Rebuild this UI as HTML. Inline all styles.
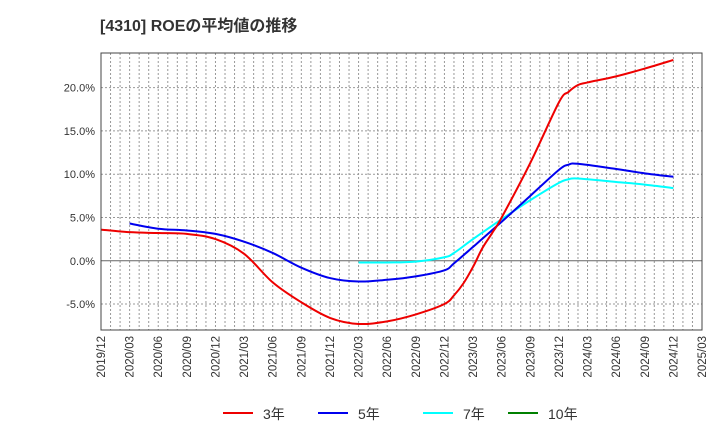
<!DOCTYPE html>
<html><head><meta charset="utf-8"><style>
body{margin:0;background:#fff;}
svg{display:block;font-family:"Liberation Sans","Noto Sans CJK JP",sans-serif;}
</style></head><body>
<svg id="chart" width="720" height="440">
<text x="100" y="31" font-size="16" font-weight="bold" fill="#333">[4310]  ROEの平均値の推移</text>
<g id="grid"></g><g id="series"></g><g id="axes"></g>
<g id="legend"></g>
</svg>
<script>
const xLabels=["2019/12","2020/03","2020/06","2020/09","2020/12","2021/03","2021/06","2021/09","2021/12","2022/03","2022/06","2022/09","2022/12","2023/03","2023/06","2023/09","2023/12","2024/03","2024/06","2024/09","2024/12","2025/03"];
const yTicks=[-5,0,5,10,15,20];
const m3=[0,3,6,9,12,15,18,21,24,27,30,33,36,37,38,39,40,41,42,45,48,49,50,51,54,57,60];
const v3=[3.6,3.3,3.2,3.1,2.5,0.8,-2.5,-4.8,-6.6,-7.3,-7.0,-6.2,-5.0,-4.0,-2.6,-0.7,1.5,3.2,5.0,11.3,18.3,19.5,20.3,20.6,21.3,22.2,23.2];
const m5=[3,6,9,12,15,18,21,24,27,30,33,36,37,39,42,45,48,49,50,54,57,60];
const v5=[4.3,3.7,3.5,3.1,2.2,0.9,-0.8,-2.0,-2.4,-2.2,-1.8,-1.1,-0.3,1.6,4.5,7.5,10.5,11.1,11.2,10.6,10.1,9.7];
const m7=[27,30,33,36,37,39,42,45,48,49,50,54,57,60];
const v7=[-0.2,-0.2,-0.1,0.4,0.9,2.5,4.8,7.0,9.0,9.4,9.5,9.1,8.8,8.4];
const L=101,R=702,T=53,B=330,yMin=-8,yMax=24,nM=63;
const X=m=>L+(R-L)*m/nM, Y=v=>B-(B-T)*(v-yMin)/(yMax-yMin);
const NS="http://www.w3.org/2000/svg";
function mk(p,t,a){const e=document.createElementNS(NS,t);for(const k in a)e.setAttribute(k,a[k]);p.appendChild(e);return e;}
const grid=document.getElementById('grid'),axes=document.getElementById('axes'),ser=document.getElementById('series'),leg=document.getElementById('legend');
for(let m=1;m<nM;m++){const l=mk(grid,'line',{x1:X(m),x2:X(m),y1:T,y2:B,stroke:'#999','stroke-dasharray':'2,2','stroke-width':1});

}
yTicks.forEach(v=>{const y=Y(v);const l=mk(grid,'line',{x1:L,x2:R,y1:y,y2:y,stroke:v===0?'#666':'#999','stroke-dasharray':v===0?'none':'2,2','stroke-width':1});


const t=mk(axes,'text',{x:L-6,y:y+4,'text-anchor':'end','font-size':11,fill:'#333'});t.textContent=v.toFixed(1)+'%';

});
xLabels.forEach((s,i)=>{const x=X(i*3);const t=mk(axes,'text',{transform:`translate(${x+4},${B+6}) rotate(-90)`,'text-anchor':'end','font-size':11.5,fill:'#333'});t.textContent=s;

});
const fr=mk(axes,'rect',{x:L,y:T,width:R-L,height:B-T,fill:'none',stroke:'#444','stroke-width':1});


function line(ms,vs,c,n){
const P=ms.map((m,i)=>[X(m),Y(vs[i])]);
let d='M'+P[0][0]+','+P[0][1];
for(let i=0;i<P.length-1;i++){const p0=P[Math.max(0,i-1)],p1=P[i],p2=P[i+1],p3=P[Math.min(P.length-1,i+2)];
const k=1/6;
d+=` C${p1[0]+(p2[0]-p0[0])*k},${p1[1]+(p2[1]-p0[1])*k} ${p2[0]-(p3[0]-p1[0])*k},${p2[1]-(p3[1]-p1[1])*k} ${p2[0]},${p2[1]}`;}
const p=mk(ser,'path',{d:d,fill:'none',stroke:c,'stroke-width':2,'stroke-linejoin':'round'});

}
line(m7,v7,'#00ffff','series-7y');
line(m5,v5,'#0000ee','series-5y');
line(m3,v3,'#ee0000','series-3y');
[['3年','#ee0000',223],['5年','#0000ee',318],['7年','#00ffff',423],['10年','#008000',508]].forEach(([s,c,x])=>{
const g=mk(leg,'g',{});


mk(g,'line',{x1:x,x2:x+30,y1:413,y2:413,stroke:c,'stroke-width':2});
const t=mk(g,'text',{x:x+40,y:419,'font-size':14,fill:'#333'});t.textContent=s;});
</script>
</body></html>
